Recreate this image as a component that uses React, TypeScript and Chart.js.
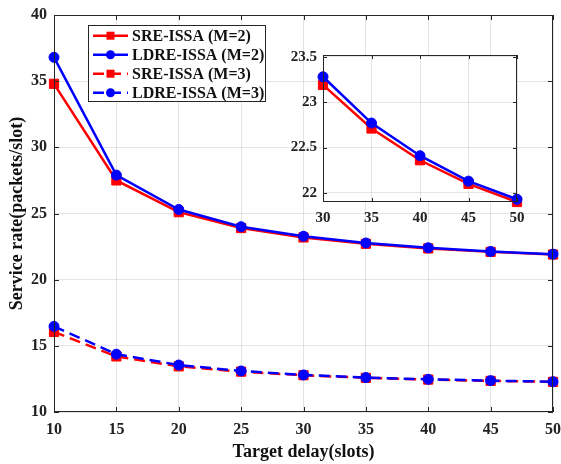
import React, { useEffect, useRef } from "react";
import { Chart, registerables } from "chart.js";

Chart.register(...registerables);

const delays = [10, 15, 20, 25, 30, 35, 40, 45, 50];
const sreM2 = [34.8, 27.5, 25.1, 23.9, 23.19, 22.71, 22.36, 22.1, 21.9];
const ldreM2 = [36.8, 27.9, 25.3, 24.0, 23.28, 22.77, 22.41, 22.13, 21.93];
const sreM3 = [16.05, 14.2, 13.45, 13.05, 12.78, 12.58, 12.45, 12.35, 12.28];
const ldreM3 = [16.47, 14.37, 13.55, 13.1, 12.8, 12.6, 12.47, 12.37, 12.29];
const seriesLabels = ["SRE-ISSA (M=2)", "LDRE-ISSA (M=2)", "SRE-ISSA (M=3)", "LDRE-ISSA (M=3)"];

const xTicks = [10, 15, 20, 25, 30, 35, 40, 45, 50];
const yTicks = [10, 15, 20, 25, 30, 35, 40];
const insetStart = 4; // inset shows delays 30..50
const insetXTicks = [30, 35, 40, 45, 50];
const insetYTicks = [22, 22.5, 23, 23.5];

const xTitle = "Target delay(slots)";
const yTitle = "Service rate(packets/slot)";

const RED = "#ff0000";
const BLUE = "#0000ff";
const FONT_STACK = '"Liberation Serif", "Times New Roman", serif';
const DASH = [11, 6];

function mkData(xs: number[], ys: number[]) {
  return xs.map((x, i) => ({ x, y: ys[i] }));
}

function makeDatasets(start: number) {
  const xs = delays.slice(start);
  const defs = [
    { label: seriesLabels[0], ys: sreM2, color: RED, style: "rect", dashed: false, order: 2 },
    { label: seriesLabels[1], ys: ldreM2, color: BLUE, style: "circle", dashed: false, order: 1 },
    { label: seriesLabels[2], ys: sreM3, color: RED, style: "rect", dashed: true, order: 4 },
    { label: seriesLabels[3], ys: ldreM3, color: BLUE, style: "circle", dashed: true, order: 3 },
  ];
  return defs.map((d) => ({
    label: d.label,
    data: mkData(xs, d.ys.slice(start)),
    borderColor: d.color,
    backgroundColor: d.color,
    pointBackgroundColor: d.color,
    pointBorderColor: d.color,
    pointStyle: d.style,
    pointRadius: d.style === "rect" ? 6.5 : 5,
    pointBorderWidth: 1,
    borderWidth: 2.5,
    borderDash: d.dashed ? DASH : [],
    tension: 0,
    clip: false as any,
    order: d.order,
    fill: false,
  }));
}

function drawBoxAndTicks(chart: any, tickLen: number) {
  const { ctx, chartArea: a, scales } = chart;
  ctx.save();
  ctx.strokeStyle = "#262626";
  ctx.lineWidth = 1;
  ctx.setLineDash([]);
  ctx.strokeRect(a.left + 0.5, a.top + 0.5, a.right - a.left - 1, a.bottom - a.top - 1);
  ctx.beginPath();
  scales.x.ticks.forEach((t: any) => {
    const px = Math.round(scales.x.getPixelForValue(t.value)) + 0.5;
    ctx.moveTo(px, a.bottom);
    ctx.lineTo(px, a.bottom - tickLen);
    ctx.moveTo(px, a.top);
    ctx.lineTo(px, a.top + tickLen);
  });
  scales.y.ticks.forEach((t: any) => {
    const py = Math.round(scales.y.getPixelForValue(t.value)) + 0.5;
    ctx.moveTo(a.left, py);
    ctx.lineTo(a.left + tickLen, py);
    ctx.moveTo(a.right, py);
    ctx.lineTo(a.right - tickLen, py);
  });
  ctx.stroke();
  ctx.restore();
}

function drawMarker(ctx: CanvasRenderingContext2D, style: string, x: number, y: number, color: string) {
  ctx.fillStyle = color;
  ctx.setLineDash([]);
  if (style === "rect") {
    ctx.fillRect(x - 4, y - 4, 8, 8);
  } else {
    ctx.beginPath();
    ctx.arc(x, y, 4.5, 0, Math.PI * 2);
    ctx.fill();
  }
}

const mainPlugin = {
  id: "mainDecor",
  afterDraw(chart: any) {
    drawBoxAndTicks(chart, 5);
    const { ctx, chartArea: a } = chart;
    ctx.save();
    ctx.fillStyle = "#111";
    ctx.font = `bold 18px ${FONT_STACK}`;
    ctx.textAlign = "center";
    ctx.textBaseline = "middle";
    ctx.fillText(xTitle, (a.left + a.right) / 2, 452);
    ctx.translate(17, (a.top + a.bottom) / 2);
    ctx.rotate(-Math.PI / 2);
    ctx.fillText(yTitle, 0, 0);
    ctx.restore();

    // legend
    const lx = 88, ly = 25, lw = 177, lh = 76;
    ctx.save();
    ctx.fillStyle = "#fff";
    ctx.fillRect(lx, ly, lw, lh);
    ctx.strokeStyle = "#262626";
    ctx.lineWidth = 1;
    ctx.strokeRect(lx + 0.5, ly + 0.5, lw, lh);
    chart.data.datasets.forEach((ds: any, i: number) => {
      const y = 35.7 + i * 19;
      ctx.strokeStyle = ds.borderColor;
      ctx.lineWidth = 2.5;
      ctx.setLineDash(ds.borderDash || []);
      ctx.beginPath();
      ctx.moveTo(93, y);
      ctx.lineTo(128, y);
      ctx.stroke();
      drawMarker(ctx, ds.pointStyle, 110.5, y, ds.borderColor);
      ctx.fillStyle = "#111";
      ctx.font = `bold 16px ${FONT_STACK}`;
      ctx.textAlign = "left";
      ctx.textBaseline = "middle";
      ctx.fillText(ds.label, 132, y + 1);
    });
    ctx.restore();
  },
};

const insetPlugin = {
  id: "insetDecor",
  beforeDraw(chart: any) {
    const { ctx, chartArea: a } = chart;
    ctx.save();
    ctx.fillStyle = "#fff";
    ctx.fillRect(a.left, a.top, a.right - a.left, a.bottom - a.top);
    ctx.restore();
  },
  afterDraw(chart: any) {
    drawBoxAndTicks(chart, 4);
  },
};

function scaleOpts(min: number, max: number, ticks: number[], fontSize: number, pad: number, fit: (s: any) => void) {
  return {
    type: "linear" as const,
    min,
    max,
    afterBuildTicks: (s: any) => {
      s.ticks = ticks.map((v) => ({ value: v }));
    },
    afterFit: (s: any) => {
      fit(s);
      s.paddingLeft = 0;
      s.paddingRight = 0;
      s.paddingTop = 0;
      s.paddingBottom = 0;
    },
    grid: { color: "rgba(0,0,0,0.1)", lineWidth: 1, drawTicks: false },
    border: { display: false },
    ticks: {
      font: { family: FONT_STACK, size: fontSize, weight: "bold" as const },
      color: "#222",
      padding: pad,
      maxRotation: 0,
      autoSkip: false,
      callback: (v: any) => String(v),
    },
  };
}

export default function App() {
  const mainRef = useRef<HTMLCanvasElement>(null);
  const insetRef = useRef<HTMLCanvasElement>(null);

  useEffect(() => {
    const main = new Chart(mainRef.current!, {
      type: "line",
      data: { datasets: makeDatasets(0) as any },
      options: {
        animation: false,
        responsive: false,
        layout: { padding: { top: 15, right: 8, left: 0, bottom: 0 } },
        plugins: { legend: { display: false }, tooltip: { enabled: false } },
        scales: {
          x: scaleOpts(10, 50, xTicks, 16, 8, (s: any) => { s.height = 52; }) as any,
          y: scaleOpts(10, 40, yTicks, 16, 7, (s: any) => { s.width = 54; }) as any,
        },
      },
      plugins: [mainPlugin],
    });
    const inset = new Chart(insetRef.current!, {
      type: "line",
      data: { datasets: makeDatasets(insetStart).slice(0, 2) as any },
      options: {
        animation: false,
        responsive: false,
        layout: { padding: { top: 10, right: 8, left: 0, bottom: 0 } },
        plugins: { legend: { display: false }, tooltip: { enabled: false } },
        scales: {
          x: scaleOpts(30, 50, insetXTicks, 15, 7, (s: any) => { s.height = 33; }) as any,
          y: scaleOpts(21.9, 23.52, insetYTicks, 15, 6, (s: any) => { s.width = 48; }) as any,
        },
      },
      plugins: [insetPlugin],
    });
    return () => {
      main.destroy();
      inset.destroy();
    };
  }, []);

  return (
    <div style={{ position: "absolute", left: 0, top: 0, width: 561, height: 464, background: "#fff" }}>
      <canvas ref={mainRef} width={561} height={464} style={{ position: "absolute", left: 0, top: 0, display: "block" }} />
      <canvas ref={insetRef} width={250} height={190} style={{ position: "absolute", left: 275, top: 45, display: "block" }} />
    </div>
  );
}
